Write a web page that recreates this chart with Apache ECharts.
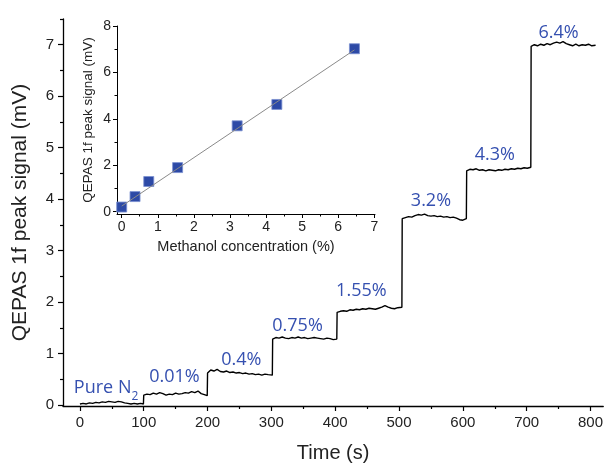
<!DOCTYPE html>
<html>
<head>
<meta charset="utf-8">
<script src="https://cdn.jsdelivr.net/npm/echarts@6/dist/echarts.min.js"></script>
<style>html,body{margin:0;padding:0;background:#fff;}#c{width:606px;height:468px;}</style>
</head>
<body>
<div id="c"></div>
<script>
// ---- Main trace: step segments (start time, values sampled every 5 s) ----
const segStarts = [0, 100, 200, 302, 403, 505, 606, 707];
const segEnds   = [99.5, 199.5, 301.5, 402.5, 504.5, 605.5, 706.5, 808];
const segValues = [
  [0.02,0.03,0.02,0.04,0.03,0.05,0.04,0.06,0.05,0.07,0.06,0.05,0.07,0.06,0.04,0.03,0.02,0.03,0.02,0.03,0.02],
  [0.19,0.21,0.20,0.23,0.21,0.24,0.22,0.19,0.21,0.20,0.23,0.21,0.22,0.24,0.23,0.26,0.24,0.27,0.22,0.20,0.18],
  [0.62,0.68,0.66,0.69,0.65,0.64,0.66,0.63,0.64,0.62,0.63,0.61,0.62,0.60,0.61,0.59,0.60,0.58,0.60,0.59,0.58],
  [1.28,1.31,1.30,1.32,1.30,1.29,1.31,1.30,1.32,1.30,1.31,1.29,1.30,1.31,1.30,1.29,1.28,1.30,1.29,1.27,1.28],
  [1.80,1.82,1.83,1.82,1.85,1.84,1.86,1.85,1.87,1.86,1.88,1.87,1.86,1.88,1.90,1.93,1.90,1.88,1.87,1.89,1.90],
  [3.62,3.64,3.66,3.65,3.68,3.70,3.69,3.71,3.68,3.67,3.68,3.66,3.67,3.65,3.66,3.64,3.65,3.63,3.60,3.59,3.62],
  [4.55,4.58,4.57,4.59,4.56,4.57,4.55,4.57,4.56,4.55,4.57,4.56,4.58,4.57,4.59,4.58,4.60,4.59,4.61,4.60,4.62],
  [6.97,7.00,6.98,7.01,6.99,7.02,7.00,7.03,7.05,7.03,7.06,7.02,7.00,6.98,7.01,6.98,7.00,6.99,7.01,6.98,6.99]
];

// ---- Step labels ----
const labelTexts = ['Pure N2', '0.01%', '0.4%', '0.75%', '1.55%', '3.2%', '4.3%', '6.4%'];
const labelX = [41, 148, 253, 341, 441, 550, 650, 750];
const labelY = [0.28, 0.51, 0.83, 1.50, 2.18, 3.92, 4.82, 7.19];

// ---- Inset: calibration ----
const conc = [0, 0.37, 0.75, 1.55, 3.2, 4.3, 6.45];
const peak = [0.20, 0.65, 1.30, 1.90, 3.70, 4.62, 7.02];
const fitX = [0, 6.45];
const fitY = [0.24, 6.97];

// tick values
const mainXTicks = [0,100,200,300,400,500,600,700,800];
const mainXMinor = [50,150,250,350,450,550,650,750];
const mainYTicks = [0,1,2,3,4,5,6,7];
const mainYMinor = [0.5,1.5,2.5,3.5,4.5,5.5,6.5,7.5];
const insXTicks = [0,1,2,3,4,5,6,7];
const insXMinor = [0.5,1.5,2.5,3.5,4.5,5.5,6.5];
const insYTicks = [0,2,4,6,8];
const insYMinor = [1,3,5,7];

// build trace
const trace = [];
segValues.forEach((vals, s) => {
  vals.forEach((v, i) => {
    let t = segStarts[s] + 5 * i;
    if (i === vals.length - 1) t = segEnds[s];
    trace.push([t, v]);
  });
});

const TXT = '#222';
const AX = '#000';
const BLUE = '#3550b0';
const FONT = 'Liberation Sans, Arial, sans-serif';

function ax(opts) {
  const base = {
    type: 'value',
    splitLine: { show: false },
    axisLine: { show: true, onZero: false, lineStyle: { color: AX, width: 1.3 } },
    axisTick: { show: true, inside: false, length: 5, lineStyle: { color: AX, width: 1.2 } },
    axisLabel: { show: true, color: TXT, fontFamily: FONT, fontSize: 15 },
    nameTextStyle: { color: TXT, fontFamily: FONT, fontSize: 20 }
  };
  const o = Object.assign(base, opts);
  o.axisLine = Object.assign({ onZero: false }, o.axisLine);
  return o;
}

const chart = echarts.init(document.getElementById('c'), null, { renderer: 'canvas' });
chart.setOption({
  animation: false,
  backgroundColor: '#fff',
  grid: [
    { left: 63, right: 1, top: 19, bottom: 62 },
    { left: 117, top: 26, width: 258, height: 188 }
  ],
  xAxis: [
    ax({ gridIndex: 0, position: 'bottom', min: -26.5, max: 820, name: 'Time (s)', nameLocation: 'middle', nameGap: 37,
         axisTick: { show: true, length: 5, customValues: mainXTicks, lineStyle: { color: AX, width: 1.2 } },
         axisLabel: { show: true, color: TXT, fontFamily: FONT, fontSize: 15, margin: 9, customValues: mainXTicks } }),
    ax({ gridIndex: 0, position: 'bottom', min: -26.5, max: 820, axisLine: { show: false, onZero: false },
         axisTick: { show: true, length: 3, customValues: mainXMinor, lineStyle: { color: AX, width: 1.2 } },
         axisLabel: { show: false } }),
    ax({ gridIndex: 1, position: 'bottom', min: -0.13, max: 7.02, name: 'Methanol concentration (%)', nameLocation: 'middle', nameGap: 25,
         nameTextStyle: { color: TXT, fontFamily: FONT, fontSize: 14.5 },
         axisLine: { show: true, onZero: false, lineStyle: { color: AX, width: 1 } },
         axisTick: { show: true, length: 4, customValues: insXTicks, lineStyle: { color: AX, width: 1 } },
         axisLabel: { show: true, color: TXT, fontFamily: FONT, fontSize: 14, margin: 6, customValues: insXTicks } }),
    ax({ gridIndex: 1, position: 'bottom', min: -0.13, max: 7.02, axisLine: { show: false, onZero: false },
         axisTick: { show: true, length: 2.5, customValues: insXMinor, lineStyle: { color: AX, width: 1 } },
         axisLabel: { show: false } })
  ],
  yAxis: [
    ax({ gridIndex: 0, position: 'left', min: -0.02, max: 7.5, name: 'QEPAS 1f peak signal (mV)', nameLocation: 'middle', nameGap: 32,
         nameTextStyle: { color: TXT, fontFamily: FONT, fontSize: 21 },
         axisTick: { show: true, length: 5, customValues: mainYTicks, lineStyle: { color: AX, width: 1.2 } },
         axisLabel: { show: true, color: TXT, fontFamily: FONT, fontSize: 15, margin: 9, customValues: mainYTicks } }),
    ax({ gridIndex: 0, position: 'left', min: -0.02, max: 7.5, axisLine: { show: false, onZero: false },
         axisTick: { show: true, length: 3, customValues: mainYMinor, lineStyle: { color: AX, width: 1.2 } },
         axisLabel: { show: false } }),
    ax({ gridIndex: 1, position: 'left', min: -0.1, max: 8, name: 'QEPAS 1f peak signal (mV)', nameLocation: 'middle', nameGap: 22,
         nameTextStyle: { color: TXT, fontFamily: FONT, fontSize: 13.5 },
         axisLine: { show: true, onZero: false, lineStyle: { color: AX, width: 1 } },
         axisTick: { show: true, length: 4, customValues: insYTicks, lineStyle: { color: AX, width: 1 } },
         axisLabel: { show: true, color: TXT, fontFamily: FONT, fontSize: 14, margin: 6, customValues: insYTicks } }),
    ax({ gridIndex: 1, position: 'left', min: -0.1, max: 8, axisLine: { show: false, onZero: false },
         axisTick: { show: true, length: 2.5, customValues: insYMinor, lineStyle: { color: AX, width: 1 } },
         axisLabel: { show: false } })
  ],
  series: [
    {
      type: 'line', xAxisIndex: 0, yAxisIndex: 0, data: trace, showSymbol: false, symbol: 'none',
      lineStyle: { color: '#000', width: 1.4 }, silent: true
    },
    {
      type: 'scatter', xAxisIndex: 0, yAxisIndex: 0, symbolSize: 1, silent: true,
      itemStyle: { color: 'rgba(0,0,0,0)', opacity: 1 },
      data: labelX.map((x, i) => [x, labelY[i], labelTexts[i]]),
      label: {
        show: true, position: 'inside',
        formatter: p => p.data[2] === 'Pure N2' ? '{a|Pure N}{b|2}' : '{a|' + p.data[2] + '}',
        rich: {
          a: { color: BLUE, fontFamily: 'Open Sans', fontSize: 18, lineHeight: 22, verticalAlign: 'top' },
          b: { color: BLUE, fontFamily: 'Open Sans', fontSize: 12, lineHeight: 24, verticalAlign: 'bottom' }
        }
      }
    },
    {
      type: 'line', xAxisIndex: 2, yAxisIndex: 2, data: fitX.map((x, i) => [x, fitY[i]]), symbol: 'none',
      lineStyle: { color: '#8a8a8a', width: 1 }, silent: true
    },
    {
      type: 'scatter', xAxisIndex: 2, yAxisIndex: 2, data: conc.map((x, i) => [x, peak[i]]),
      symbol: 'rect', symbolSize: 10,
      itemStyle: { color: '#2d4aa6', borderColor: '#7a8fd0', borderWidth: 0.8, opacity: 1 }
    }
  ]
});
</script>
</body>
</html>
